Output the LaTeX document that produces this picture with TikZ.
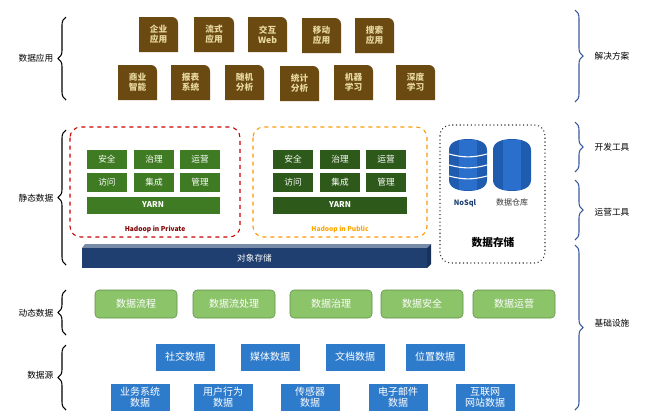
\documentclass[tikz,border=0pt]{standalone}
\usepackage{fontspec}
\setmainfont{Noto Sans CJK SC}
\usetikzlibrary{decorations.pathreplacing,shapes.geometric}
\definecolor{brown1}{HTML}{6B4A12}
\definecolor{gold}{HTML}{E8D9A0}
\definecolor{gA}{HTML}{3E7B22}
\definecolor{gB}{HTML}{2D5A1A}
\definecolor{gL}{HTML}{8CC46A}
\definecolor{gLd}{HTML}{5E8F45}
\definecolor{bS}{HTML}{2E7BCB}
\definecolor{navy}{HTML}{1E3F70}
\definecolor{bracec}{HTML}{3A5A9A}
\definecolor{cylA}{HTML}{1F5CB0}
\definecolor{cylB}{HTML}{2A6FCC}
\tikzset{
 app/.style={fill=brown1,draw=brown1!70!black,text=gold,font=\fontsize{6.5}{7.5}\selectfont\bfseries,align=center},
 gbox/.style={fill=gA,draw=white,text=white,font=\fontsize{6.5}{7}\selectfont,align=center},
 dyn/.style={fill=gL,draw=gLd,rounded corners=3pt,text=white,font=\fontsize{7.5}{8}\selectfont,align=center},
 src/.style={fill=bS,draw=white,text=white,font=\fontsize{7.5}{8}\selectfont,align=center,inner sep=1pt},
 lab/.style={font=\fontsize{6.5}{8}\selectfont,text=black},
 lbr/.style={decorate,decoration={brace,amplitude=6pt},thick},
 rbr/.style={decorate,decoration={brace,amplitude=6pt},thick,draw=bracec},
}
\newcommand{\appbox}[5]{%
 \fill[brown1] (#1,#2) -- (#3-6,#2) to[out=0,in=90] (#3,#2+6) -- (#3,#4) -- (#1,#4) -- cycle;
 \node[app,draw=none,fill=none] (#5) at ({(#1+#3)/2},{(#2+#4)/2}) {\csname apptext#5\endcsname};}
\begin{document}
\begin{tikzpicture}[x=0.75pt,y=-0.75pt]
\useasboundingbox (0,0) rectangle (651,412);
\fill[white] (0,0) rectangle (651,412);
% apps
\def\apptextaa{企业\\应用}\def\apptextab{流式\\应用}\def\apptextac{交互\\Web}\def\apptextad{移动\\应用}\def\apptextae{搜索\\应用}
\def\apptextba{商业\\智能}\def\apptextbb{报表\\系统}\def\apptextbc{随机\\分析}\def\apptextbd{统计\\分析}\def\apptextbe{机器\\学习}\def\apptextbf{深度\\学习}
\appbox{139}{17}{178}{52}{aa}\appbox{194}{17}{234}{52}{ab}\appbox{248}{17}{287}{52}{ac}\appbox{302}{18}{341}{53}{ad}\appbox{355}{18}{394}{53}{ae}
\appbox{118}{65}{157}{100}{ba}\appbox{171}{65}{210}{100}{bb}\appbox{225}{65}{264}{100}{bc}\appbox{280}{66}{319}{101}{bd}\appbox{334}{65}{373}{100}{be}\appbox{396}{65}{435}{100}{bf}
% left braces & labels
\draw[lbr] (66,100) -- (66,17); \node[lab,anchor=east] (l1) at (58,58) {数据应用};
\draw[lbr] (66,265) -- (66,130); \node[lab,anchor=east] (l2) at (58,198) {静态数据};
\draw[lbr] (66,335) -- (66,290); \node[lab,anchor=east] (l3) at (58,313) {动态数据};
\draw[lbr] (66,410) -- (66,345); \node[lab,anchor=east] (l4) at (58,375) {数据源};
% right braces
\draw[rbr] (575,10) -- (575,102); \node[lab,anchor=west] (r1) at (590,56) {解决方案};
\draw[rbr] (575,122) -- (575,172); \node[lab,anchor=west] (r2) at (590,147) {开发工具};
\draw[rbr] (575,180) -- (575,240); \node[lab,anchor=west] (r3) at (590,212) {运营工具};
\draw[rbr] (575,245) -- (575,410); \node[lab,anchor=west] (r4) at (590,323) {基础设施};
% hadoop private
\draw[red!80!black,thick,dashed,rounded corners=8pt] (70,127) rectangle (240,237);
\foreach \n/\x/\y/\t in {p1/107/159/安全,p2/154/159/治理,p3/200/159/运营,p4/107/182/访问,p5/154/182/集成,p6/200/182/管理}
 \node[gbox,minimum width=41pt*0.75,minimum height=20pt*0.75] (\n) at (\x,\y) {\t};
\node[gbox,minimum width=134pt*0.75,minimum height=18pt*0.75,font=\fontsize{6}{7}\selectfont\bfseries] (py) at (153,205) {YARN};
\node[font=\fontsize{5}{6}\selectfont\bfseries,text=red!50!black] (pl) at (155,229) {Hadoop in Private};
% hadoop public
\draw[orange!80!yellow,thick,dashed,rounded corners=8pt] (253,127) rectangle (427,237);
\foreach \n/\x/\y/\t in {q1/293/159/安全,q2/340/159/治理,q3/386/159/运营,q4/293/182/访问,q5/340/182/集成,q6/386/182/管理}
 \node[gbox,fill=gB,minimum width=41pt*0.75,minimum height=20pt*0.75] (\n) at (\x,\y) {\t};
\node[gbox,fill=gB,minimum width=135pt*0.75,minimum height=18pt*0.75,font=\fontsize{6}{7}\selectfont\bfseries] (qy) at (340,205) {YARN};
\node[font=\fontsize{5}{6}\selectfont\bfseries,text=orange!70!yellow] (ql) at (340,229) {Hadoop in Public};
% data storage
\draw[black!80,thick,dotted,rounded corners=8pt] (440,125) rectangle (545,263);
\foreach \cx in {468,512}{
 \fill[cylA] (\cx-19,150) to[out=90,in=180] (\cx,139) to[out=0,in=90] (\cx+19,150) -- (\cx+19,180) to[out=-90,in=0] (\cx,191) to[out=180,in=-90] (\cx-19,180) -- cycle;
 \fill[cylB] (\cx-9,140) rectangle (\cx+9,190);}
\foreach \yy in {154,165,176} \draw[white,thick] (449,\yy) to[bend right=15] (487,\yy);
\node[font=\fontsize{5.5}{6}\selectfont\bfseries,text=navy] (ns) at (465,203) {NoSql};
\node[font=\fontsize{6}{7}\selectfont,text=black!80] (dw) at (512,202) {数据仓库};
\node[font=\fontsize{8}{9}\selectfont\bfseries] (ds) at (493,242) {数据存储};
% object storage
\fill[navy!60] (82,248) -- (85,244) -- (431,244) -- (427,248) -- cycle;
\fill[navy!80!black] (427,248) -- (431,244) -- (431,264) -- (427,268) -- cycle;
\node[fill=navy,text=white,minimum width=345pt*0.75,minimum height=20pt*0.75,inner sep=0,font=\fontsize{6.5}{7}\selectfont] (os) at (254.5,258) {对象存储};
% dynamic
\foreach \n/\x/\t in {d1/136/数据流程,d2/234/数据流处理,d3/331/数据治理,d4/422/数据安全,d5/514/数据运营}
 \node[dyn,minimum width=82pt*0.75,minimum height=28pt*0.75] (\n) at (\x,304) {\t};
% sources
\foreach \n/\x/\t in {s1/185/社交数据,s2/270/媒体数据,s3/355/文档数据,s4/435/位置数据}
 \node[src,minimum width=60pt*0.75,minimum height=28pt*0.75] (\n) at (\x,357) {\t};
\foreach \n/\x/\t in {t1/140/业务系统\\数据,t2/223/用户行为\\数据,t3/310/传感器\\数据,t4/398/电子邮件\\数据,t5/485/互联网\\网站数据}
 \node[src,minimum width=60pt*0.75,minimum height=28pt*0.75] (\n) at (\x,397) {\t};
\end{tikzpicture}
\end{document}
